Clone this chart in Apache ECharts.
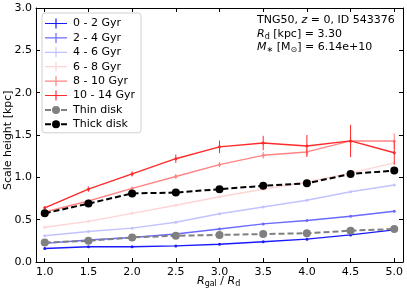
<!DOCTYPE html>
<html><head><meta charset="utf-8">
<script src="https://cdn.jsdelivr.net/npm/echarts@6/dist/echarts.min.js"></script>
<style>html,body{margin:0;padding:0;background:#fff}#c{width:407px;height:293px}</style>
</head><body><div id="c"></div>
<script>
const xs = [1.0, 1.5, 2.0, 2.5, 3.0, 3.5, 4.0, 4.5, 5.0];
const xTicks = [1.0, 1.5, 2.0, 2.5, 3.0, 3.5, 4.0, 4.5, 5.0];
const yTicks = [0.0, 0.5, 1.0, 1.5, 2.0, 2.5, 3.0];
const age0_2   = [0.16, 0.18, 0.18, 0.19, 0.21, 0.24, 0.27, 0.32, 0.38];
const age2_4   = [0.22, 0.26, 0.29, 0.33, 0.39, 0.45, 0.49, 0.54, 0.60];
const age4_6   = [0.31, 0.36, 0.40, 0.47, 0.57, 0.65, 0.73, 0.83, 0.91];
const age6_8   = [0.41, 0.48, 0.575, 0.67, 0.77, 0.86, 0.945, 1.05, 1.17];
const age8_10  = [0.59, 0.72, 0.87, 1.01, 1.15, 1.26, 1.30, 1.43, 1.43];
const age10_14 = [0.64, 0.86, 1.04, 1.22, 1.36, 1.405, 1.37, 1.43, 1.29];
const err8_10  = [0.02, 0.02, 0.02, 0.03, 0.03, 0.04, 0.04, 0.06, 0.09];
const err10_14 = [0.02, 0.03, 0.03, 0.05, 0.075, 0.085, 0.13, 0.19, 0.14];
const thinDisk  = [0.23, 0.25, 0.29, 0.31, 0.32, 0.33, 0.34, 0.37, 0.39];
const thickDisk = [0.575, 0.69, 0.81, 0.82, 0.86, 0.90, 0.93, 1.04, 1.08];
const names = ['0 - 2 Gyr','2 - 4 Gyr','4 - 6 Gyr','6 - 8 Gyr','8 - 10 Gyr','10 - 14 Gyr','Thin disk','Thick disk'];
const colors = ['#1a1aff','#6a6aff','#c2c2ff','#ffd4d4','#ff8484','#ff2a2a','#808080','#000000'];

const FONT = 'DejaVu Sans';
const pair = a => xs.map((x,i)=>[x,a[i]]);
function ageSeries(i, vals){
  return {type:'line', name:names[i], data:pair(vals), color:colors[i],
    lineStyle:{width:1.4, color:colors[i]}, symbol:'circle', symbolSize:3,
    itemStyle:{color:colors[i]}, z:2+i, silent:true, animation:false};
}
function errSeries(vals, errs, color, z){
  return {type:'custom', name:'err'+z, data:xs.map((x,i)=>[x,vals[i],errs[i]]), z:z, silent:true, animation:false,
    renderItem:(p,api)=>{const x=api.value(0),y=api.value(1),e=api.value(2);
      const a=api.coord([x,y-e]), b=api.coord([x,y+e]);
      return {type:'line', shape:{x1:a[0],y1:a[1],x2:b[0],y2:b[1]}, style:{stroke:color,lineWidth:1}};}};
}
function diskSeries(i, vals){
  return {type:'line', name:names[i], data:pair(vals), color:colors[i],
    lineStyle:{width:2, type:[6,3], color:colors[i]}, symbol:'circle', symbolSize:8,
    itemStyle:{color:colors[i]}, z:20+i, silent:true, animation:false};
}
const errIcon = 'path://M0,4.4h22v1.2h-22z M10.4,0h1.2v10h-1.2z';
const diskIcon = 'path://M0,4h6v2h-6z M16,4h6v2h-6z M7,5a4,4 0 1,0 8,0a4,4 0 1,0 -8,0z';
const axisCommon = {min:0, max:3, interval:0.5};
const chart = echarts.init(document.getElementById('c'), null, {renderer:'canvas'});
chart.setOption({
  animation:false,
  grid:{left:36, right:4, top:8, bottom:31, containLabel:false},
  xAxis:[
    {type:'value', min:0.9, max:5.1, position:'bottom',
     axisLine:{onZero:false, lineStyle:{color:'#000', width:1}},
     axisTick:{inside:true, length:4, customValues:xTicks, lineStyle:{color:'#000'}},
     axisLabel:{customValues:xTicks, formatter:v=>v.toFixed(1), color:'#000', fontSize:11, fontFamily:FONT, margin:5},
     splitLine:{show:false}},
    {type:'value', min:0.9, max:5.1, position:'top',
     axisLine:{onZero:false, lineStyle:{color:'#000', width:1}},
     axisTick:{inside:true, length:4, customValues:xTicks, lineStyle:{color:'#000'}},
     axisLabel:{show:false}, splitLine:{show:false}}
  ],
  yAxis:[
    Object.assign({type:'value', position:'left',
     axisLine:{show:true, onZero:false, lineStyle:{color:'#000', width:1}},
     axisTick:{show:true, inside:true, length:4, lineStyle:{color:'#000'}},
     axisLabel:{formatter:v=>v.toFixed(1), color:'#000', fontSize:11, fontFamily:FONT, margin:4},
     splitLine:{show:false}}, axisCommon),
    Object.assign({type:'value', position:'right',
     axisLine:{show:true, onZero:false, lineStyle:{color:'#000', width:1}},
     axisTick:{show:true, inside:true, length:4, lineStyle:{color:'#000'}},
     axisLabel:{show:false}, splitLine:{show:false}}, axisCommon)
  ],
  legend:{orient:'vertical', left:42, top:13, itemWidth:22, itemHeight:10, itemGap:3.4,
    padding:[5,6,3,3], borderColor:'#d0d0d0', borderWidth:1, borderRadius:3, backgroundColor:'rgba(255,255,255,0.85)',
    textStyle:{fontSize:11, fontFamily:FONT, color:'#000', padding:[0,0,0,1]},
    selectedMode:false,
    data:names.map((n,i)=>({name:n, icon:i<6?errIcon:diskIcon}))},
  graphic:[
    {type:'text', left:257, top:15, style:{text:'{n|TNG50, }{i|z}{n| = 0, ID 543376}', rich:{n:{fontSize:11,fontFamily:FONT,fill:'#000'}, i:{fontSize:11,fontFamily:FONT,fontStyle:'italic',fill:'#000'}}}},
    {type:'text', left:257, top:29, style:{text:'{i|R}{s|d}{n| [kpc] = 3.30}', rich:{n:{fontSize:11,fontFamily:FONT,fill:'#000'}, i:{fontSize:11,fontFamily:FONT,fontStyle:'italic',fill:'#000'}, s:{fontSize:8,fontFamily:FONT,fill:'#000',padding:[5,0,0,0]}}}},
    {type:'text', left:257, top:42, style:{text:'{i|M}{s|∗}{n| [M}{s|⊙}{n|] = 6.14e+10}', rich:{n:{fontSize:11,fontFamily:FONT,fill:'#000'}, i:{fontSize:11,fontFamily:FONT,fontStyle:'italic',fill:'#000'}, s:{fontSize:8,fontFamily:FONT,fill:'#000',padding:[5,0,0,0]}}}},
    {type:'text', left:197, top:276, style:{text:'{i|R}{s|gal}{n| / }{i|R}{s|d}', rich:{n:{fontSize:11,fontFamily:FONT,fill:'#000'}, i:{fontSize:11,fontFamily:FONT,fontStyle:'italic',fill:'#000'}, s:{fontSize:8,fontFamily:FONT,fill:'#000',padding:[5,0,0,0]}}}},
    {type:'text', x:3, y:190, rotation:Math.PI/2, style:{text:'Scale height [kpc]', fontSize:11, fontFamily:FONT, fill:'#000'}}
  ],
  series:[
    ageSeries(0, age0_2), ageSeries(1, age2_4), ageSeries(2, age4_6), ageSeries(3, age6_8),
    ageSeries(4, age8_10), ageSeries(5, age10_14),
    errSeries(age8_10, err8_10, colors[4], 6), errSeries(age10_14, err10_14, colors[5], 7),
    diskSeries(6, thinDisk), diskSeries(7, thickDisk)
  ]
});
</script></body></html>
